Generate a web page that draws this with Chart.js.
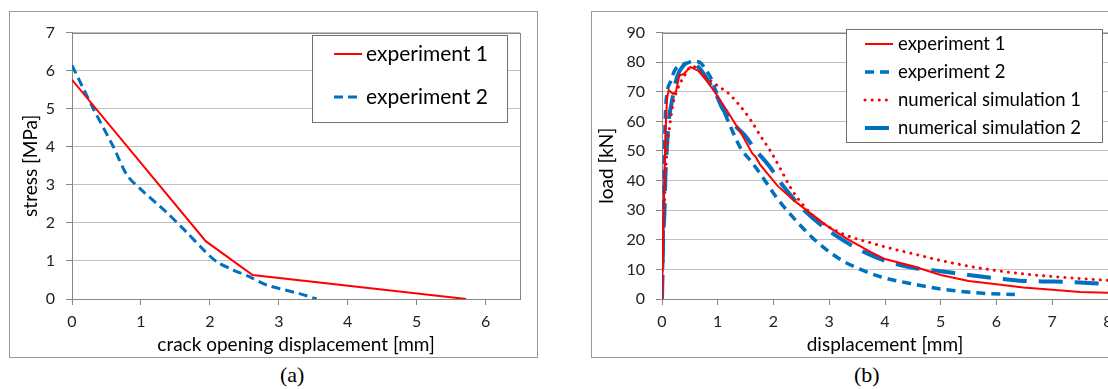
<!DOCTYPE html>
<html>
<head>
<meta charset="utf-8">
<script src="https://cdn.jsdelivr.net/npm/chart.js@4.4.1/dist/chart.umd.min.js"></script>
<style>
  html, body { margin: 0; padding: 0; background: #fff; overflow: hidden; width: 1108px; height: 389px; }
  .box { position: absolute; border: 1px solid #999; box-sizing: border-box; background: #fff; }
  .box canvas { position: absolute; left: 0; top: 0; }
  .cap { position: absolute; font-family: "Liberation Serif", "DejaVu Serif", serif; font-size: 22px; color: #000; }
</style>
</head>
<body>
<div class="box" style="left:9px;top:11px;width:529px;height:347px">
  <canvas id="chartA" width="527" height="345" style="width:527px;height:345px"></canvas>
</div>
<div class="box" style="left:591px;top:11px;width:534px;height:347px">
  <canvas id="chartB" width="532" height="345" style="width:532px;height:345px"></canvas>
</div>
<div class="cap" style="left:280px;top:362px">(a)</div>
<div class="cap" style="left:854px;top:362px">(b)</div>

<script>
// (a) stress vs crack opening displacement
const codExp1 = [0, 1.94, 2.62, 5.72];
const stressExp1 = [5.76, 1.52, 0.63, 0];
const codExp2 = [0, 0.31, 0.6, 0.8, 1.0, 1.37, 1.66, 1.92, 2.1, 2.34, 2.58, 2.82, 3.3, 3.55];
const stressExp2 = [6.14, 5.0, 4.0, 3.25, 2.88, 2.28, 1.76, 1.27, 0.98, 0.76, 0.58, 0.37, 0.14, 0];

// (b) load vs displacement
const dispExp1 = [0, 0.03, 0.06, 0.09, 0.12, 0.2, 0.25, 0.31, 0.39, 0.51, 0.66, 0.82, 1.0, 1.19, 1.44, 1.62, 1.68, 1.76, 2.07, 2.36, 2.66, 2.96, 3.32, 3.74, 4.0, 4.52, 5.0, 5.5, 6.0, 6.48, 7.0, 7.5, 8.0];
const loadExp1 = [0, 30, 55, 68, 70.5, 69.3, 70, 75.5, 76, 78.4, 77, 73.3, 68.4, 62.9, 55.3, 49.2, 48, 45.4, 38.3, 33.4, 29.0, 24.7, 20.3, 15.9, 13.5, 11.0, 8.1, 6.1, 5.0, 3.9, 3.1, 2.4, 2.1];
const dispExp2 = [0, 0.02, 0.04, 0.06, 0.09, 0.15, 0.24, 0.36, 0.57, 0.69, 0.78, 0.87, 1.0, 1.2, 1.41, 1.62, 1.77, 2.07, 2.36, 2.66, 2.96, 3.26, 3.56, 3.92, 4.52, 5.0, 5.71, 6.33];
const loadExp2 = [0, 20, 45, 62, 69.5, 73.3, 77.6, 78.9, 80.3, 79.8, 77.6, 74.9, 68.5, 59.5, 51, 46, 42.1, 33.9, 27.4, 21.4, 16.5, 12.7, 10.0, 7.5, 5.0, 3.4, 2.0, 1.5];
const dispSim1 = [0, 0.005, 0.02, 0.04, 0.06, 0.09, 0.15, 0.2, 0.27, 0.39, 0.54, 0.7, 0.82, 1.0, 1.19, 1.41, 1.59, 1.77, 1.95, 2.13, 2.3, 2.48, 2.72, 2.96, 3.32, 3.74, 4.0, 4.52, 5.0, 5.5, 6.0, 6.48, 7.0, 7.5, 8.0];
const loadSim1 = [0, 9, 20, 30, 40, 50, 60, 66, 70.5, 75, 78.7, 76.5, 74.5, 72, 69.5, 65, 60.5, 55, 49.8, 43.8, 37.8, 32.9, 28, 24.7, 21.4, 19.0, 17.6, 15.2, 13.0, 11.1, 9.6, 8.5, 7.6, 6.9, 6.3];
const dispSim2 = [0, 0.02, 0.045, 0.06, 0.09, 0.12, 0.18, 0.27, 0.39, 0.51, 0.69, 0.81, 0.99, 1.08, 1.29, 1.5, 1.65, 1.94, 2.16, 2.57, 3.08, 3.68, 4.04, 4.52, 5.0, 5.5, 6.0, 6.48, 7.0, 7.5, 8.0];
const loadSim2 = [0, 19, 30, 41, 52, 60, 67, 75, 79, 80, 77.6, 74.3, 68.3, 64.5, 59, 55, 51, 44.5, 38.5, 29.6, 21.9, 15.4, 12.7, 10.5, 9.4, 8.1, 7.0, 6.1, 5.9, 5.6, 5.0];

const red = "#FF0000";
const blue = "#0070C0";
const tickColor = "#222";
const fontFamily = "Lato, 'Open Sans', sans-serif";

function toPoints(xs, ys) {
  return xs.map((x, i) => ({ x: x, y: ys[i] }));
}

// grey border round the plot area
const plotFrame = {
  id: "plotFrame",
  beforeDatasetsDraw(chart) {
    const { ctx, chartArea: a } = chart;
    ctx.save();
    ctx.strokeStyle = "#868686";
    ctx.lineWidth = 1;
    ctx.strokeRect(Math.round(a.left) + 0.5, Math.round(a.top) + 0.5,
      Math.round(a.right - a.left), Math.round(a.bottom - a.top));
    ctx.restore();
  },
};

// Excel-like legend box inside the plot
const boxLegend = {
  id: "boxLegend",
  afterDraw(chart, args, opts) {
    const ctx = chart.ctx;
    ctx.save();
    ctx.fillStyle = "#fff";
    ctx.fillRect(opts.x, opts.y, opts.w, opts.h);
    ctx.strokeStyle = "#707070";
    ctx.lineWidth = 1;
    ctx.strokeRect(opts.x + 0.5, opts.y + 0.5, opts.w, opts.h);
    chart.data.datasets.forEach((ds, i) => {
      const y = opts.rows[i];
      ctx.beginPath();
      ctx.strokeStyle = ds.borderColor;
      ctx.lineWidth = ds.borderWidth;
      ctx.lineCap = ds.borderCapStyle || "butt";
      ctx.setLineDash(ds.borderDash || []);
      ctx.moveTo(opts.x0, y);
      ctx.lineTo(opts.x1, y);
      ctx.stroke();
      ctx.setLineDash([]);
      ctx.fillStyle = "#000";
      ctx.font = opts.font;
      ctx.textBaseline = "middle";
      ctx.fillText(ds.label, opts.textX, y);
    });
    ctx.restore();
  },
};

function axes(xMax, yMax, yStep, xTitle, yTitle, yWidth, yTitlePad) {
  return {
    x: {
      type: "linear",
      min: 0,
      max: xMax,
      afterFit: (s) => { s.height = 58; },
      ticks: { stepSize: 1, includeBounds: false, color: tickColor, padding: 7, font: { family: fontFamily, size: 16 } },
      grid: { drawOnChartArea: false, drawTicks: true, tickLength: 6, tickColor: "#868686" },
      border: { color: "#868686" },
      title: { display: true, text: xTitle, color: "#000", padding: { top: 0, bottom: 1 }, font: { family: fontFamily, size: 19 } },
    },
    y: {
      min: 0,
      max: yMax,
      afterFit: (s) => { s.width = yWidth; },
      ticks: { stepSize: yStep, color: tickColor, padding: 11, font: { family: fontFamily, size: 16 } },
      grid: { color: "#C0C0C0", tickLength: 6, tickColor: "#868686" },
      border: { color: "#868686" },
      title: { display: true, text: yTitle, color: "#000", padding: { top: yTitlePad, bottom: 0 }, font: { family: fontFamily, size: 19 } },
    },
  };
}

new Chart(document.getElementById("chartA"), {
  type: "line",
  data: {
    datasets: [
      { label: "experiment 1", data: toPoints(codExp1, stressExp1), borderColor: red, borderWidth: 2, pointRadius: 0, tension: 0 },
      { label: "experiment 2", data: toPoints(codExp2, stressExp2), borderColor: blue, borderWidth: 3, borderDash: [9, 5], pointRadius: 0, tension: 0.3 },
    ],
  },
  options: {
    responsive: false,
    animation: false,
    layout: { padding: { left: 0, top: 14, right: 17, bottom: 0 } },
    scales: axes(6.5, 7, 1, "crack opening displacement [mm]", "stress [MPa]", 62, 9),
    plugins: {
      legend: { display: false },
      tooltip: { enabled: false },
      boxLegend: { x: 302, y: 23, w: 195, h: 87, rows: [42, 85], x0: 324, x1: 352, textX: 356, font: "21px " + fontFamily },
    },
  },
  plugins: [plotFrame, boxLegend],
});

new Chart(document.getElementById("chartB"), {
  type: "line",
  data: {
    datasets: [
      { label: "experiment 1", data: toPoints(dispExp1, loadExp1), borderColor: red, borderWidth: 2, pointRadius: 0, tension: 0 },
      { label: "experiment 2", data: toPoints(dispExp2, loadExp2), borderColor: blue, borderWidth: 3.5, borderDash: [9, 6], pointRadius: 0, cubicInterpolationMode: "monotone" },
      { label: "numerical simulation 1", data: toPoints(dispSim1, loadSim1), borderColor: red, borderWidth: 3, borderDash: [0.1, 7], borderCapStyle: "round", pointRadius: 0, cubicInterpolationMode: "monotone" },
      { label: "numerical simulation 2", data: toPoints(dispSim2, loadSim2), borderColor: blue, borderWidth: 4, borderDash: [24, 12], pointRadius: 0, cubicInterpolationMode: "monotone" },
    ],
  },
  options: {
    responsive: false,
    animation: false,
    layout: { padding: { left: 0, top: 12, right: 16, bottom: 0 } },
    scales: axes(8, 90, 10, "displacement [mm]", "load [kN]", 70, 3),
    plugins: {
      legend: { display: false },
      tooltip: { enabled: false },
      boxLegend: { x: 254, y: 17, w: 256, h: 113, rows: [32, 60, 88, 116], x0: 273, x1: 301, textX: 306, font: "18.5px " + fontFamily },
    },
  },
  plugins: [plotFrame, boxLegend],
});
</script>
</body>
</html>
